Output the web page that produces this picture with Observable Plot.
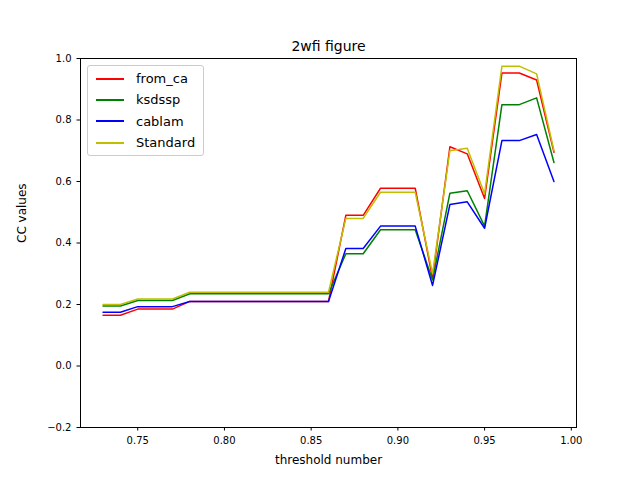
<!DOCTYPE html>
<html><head><meta charset="utf-8">
<script src="https://cdn.jsdelivr.net/npm/d3@7"></script>
<script src="https://cdn.jsdelivr.net/npm/@observablehq/plot@0.6"></script>
<style>
body{margin:0;background:#fff;font-family:"DejaVu Sans",sans-serif}
#wrap{position:relative;width:640px;height:480px}
#legend{position:absolute;left:87px;top:65px;border:1px solid #ccc;border-radius:3px;background:#fff;padding:2px 8px 2px 8px;font-size:13px;line-height:1}
#legend div{display:flex;align-items:center;height:21.3px}
#legend span.sw{display:inline-block;width:28px;height:2px;margin-right:12px}
</style></head><body>
<div id="wrap"><div id="chart"></div><div id="legend"></div></div>
<script>
const thresholds = d3.range(27).map(i => +(0.73 + i * 0.01).toFixed(2));
const fromCa = [0.165,0.165,0.185,0.185,0.185,0.21,0.21,0.21,0.21,0.21,0.21,0.21,0.21,0.21,0.49,0.49,0.578,0.578,0.578,0.285,0.713,0.69,0.545,0.953,0.953,0.93,0.695];
const ksdssp = [0.195,0.195,0.213,0.213,0.213,0.235,0.235,0.235,0.235,0.235,0.235,0.235,0.235,0.235,0.365,0.365,0.443,0.443,0.443,0.28,0.562,0.57,0.455,0.85,0.85,0.872,0.662];
const cablam = [0.175,0.175,0.193,0.193,0.193,0.21,0.21,0.21,0.21,0.21,0.21,0.21,0.21,0.21,0.382,0.382,0.455,0.455,0.455,0.262,0.525,0.534,0.448,0.733,0.733,0.753,0.60];
const standard = [0.2,0.2,0.218,0.218,0.218,0.24,0.24,0.24,0.24,0.24,0.24,0.24,0.24,0.24,0.48,0.48,0.565,0.565,0.565,0.3,0.7,0.708,0.56,0.975,0.975,0.95,0.70];

const series = [
  {name: "from_ca", values: fromCa, color: "#ff0000"},
  {name: "ksdssp", values: ksdssp, color: "#008000"},
  {name: "cablam", values: cablam, color: "#0000ff"},
  {name: "Standard", values: standard, color: "#bfbf00"}
];
const rows = series.flatMap(s => s.values.map((v, i) => ({x: thresholds[i], y: v, name: s.name})));

const plot = Plot.plot({
  width: 640, height: 480,
  marginLeft: 80, marginRight: 64, marginTop: 58, marginBottom: 53,
  style: {fontSize: "10px", fontFamily: "DejaVu Sans"},
  x: {domain: [0.717, 1.003], ticks: [0.75,0.8,0.85,0.9,0.95,1.0], tickFormat: d3.format(".2f"), tickSize: 3.5, label: null},
  y: {domain: [-0.2, 1.0], ticks: d3.range(-0.2, 1.01, 0.2), tickFormat: d3.format(".1f"), tickSize: 3.5, label: null},
  color: {domain: series.map(s => s.name), range: series.map(s => s.color)},
  marks: [
    Plot.frame({stroke: "#000"}),
    Plot.line(rows, {x: "x", y: "y", z: "name", stroke: "name", strokeWidth: 1.5}),
    Plot.text(["2wfi figure"], {frameAnchor: "top", dy: -17, fontSize: 14}),
    Plot.text(["threshold number"], {frameAnchor: "bottom", dy: 36, fontSize: 12}),
    Plot.text(["CC values"], {frameAnchor: "left", dx: -58, rotate: -90, fontSize: 12})
  ]
});
document.getElementById("chart").append(plot);

const legend = document.getElementById("legend");
series.forEach(s => {
  const d = document.createElement("div");
  d.innerHTML = `<span class="sw" style="background:${s.color}"></span>${s.name}`;
  legend.append(d);
});
</script></body></html>
